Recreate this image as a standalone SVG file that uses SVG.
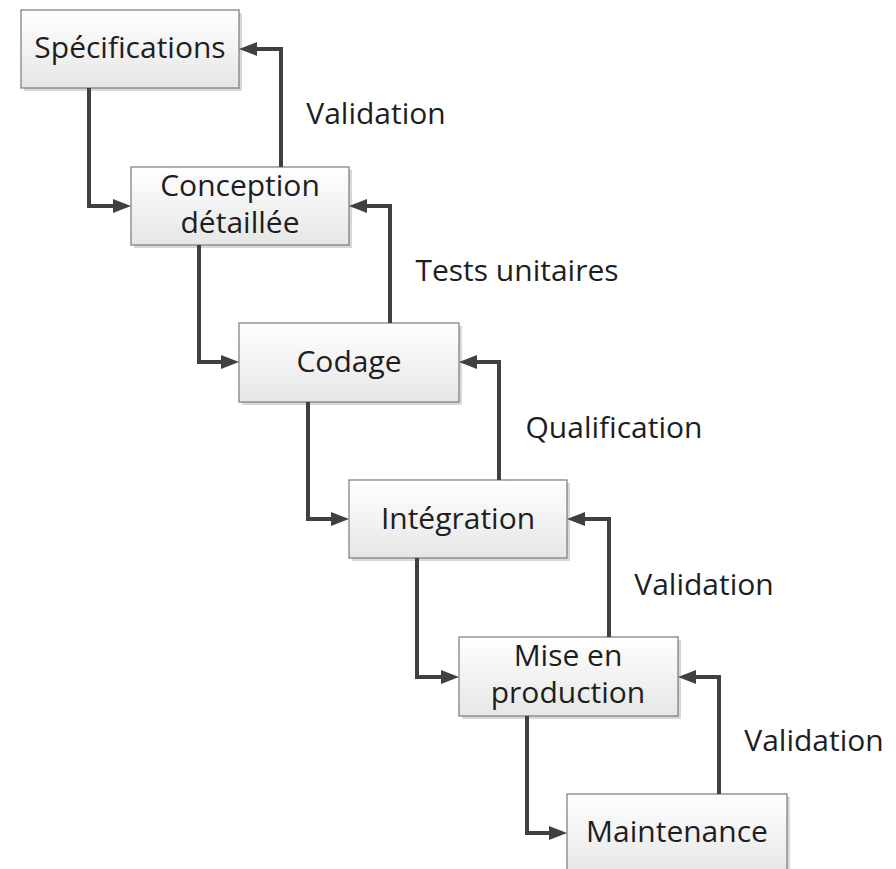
<svg xmlns="http://www.w3.org/2000/svg" width="896" height="869" viewBox="0 0 896 869">
<defs>
<linearGradient id="g" x1="0" y1="0" x2="0" y2="1">
<stop offset="0" stop-color="#ffffff"/>
<stop offset="1" stop-color="#e6e6e6"/>
</linearGradient>
<marker id="ah" markerUnits="userSpaceOnUse" markerWidth="18" markerHeight="14" refX="4" refY="7" orient="auto">
<path d="M0,0 L18,7 L0,14 z" fill="#404040"/>
</marker>
<style>
.box{fill:url(#g);stroke:#7a7a7a;stroke-width:1.2}
.sh{fill:#d8d8d8}
.t{font-family:"Open Sans","Noto Sans",sans-serif;font-size:30px;fill:#1e1e1e;text-anchor:middle}
.c{fill:none;stroke:#404040;stroke-width:4;marker-end:url(#ah)}
</style>
</defs>
<rect width="896" height="869" fill="#ffffff"/>
<g id="n1"><rect class="sh" x="24" y="13" width="218" height="78"/><rect class="box" x="21" y="10" width="218" height="78"/><text class="t" x="130" y="58">Spécifications</text></g>
<g id="n2"><rect class="sh" x="134" y="170" width="218" height="78"/><rect class="box" x="131" y="167" width="218" height="78"/><text class="t" x="240" y="196">Conception</text><text class="t" x="240" y="233">détaillée</text></g>
<g id="n3"><rect class="sh" x="242" y="326" width="220" height="79"/><rect class="box" x="239" y="323" width="220" height="79"/><text class="t" x="349" y="372">Codage</text></g>
<g id="n4"><rect class="sh" x="352" y="483" width="218" height="78"/><rect class="box" x="349" y="480" width="218" height="78"/><text class="t" x="458" y="529">Intégration</text></g>
<g id="n5"><rect class="sh" x="462" y="640" width="219" height="79"/><rect class="box" x="459" y="637" width="219" height="79"/><text class="t" x="568" y="666">Mise en</text><text class="t" x="568" y="703">production</text></g>
<g id="n6"><rect class="sh" x="570" y="797" width="220" height="80"/><rect class="box" x="567" y="794" width="220" height="80"/><text class="t" x="677" y="842">Maintenance</text></g>
<g id="connectors">
<path class="c" d="M89,88 V206 H117"/>
<path class="c" d="M281,167 V49 H253"/>
<path class="c" d="M199,245 V362 H225"/>
<path class="c" d="M390,323 V206 H363"/>
<path class="c" d="M308,402 V519 H335"/>
<path class="c" d="M499,480 V362 H473"/>
<path class="c" d="M417,558 V677 H445"/>
<path class="c" d="M609,637 V519 H581"/>
<path class="c" d="M527,716 V833 H553"/>
<path class="c" d="M719,794 V677 H692"/>
</g>
<g id="labels" class="t" style="text-anchor:start">
<text class="t" x="376" y="124">Validation</text>
<text class="t" x="517" y="281">Tests unitaires</text>
<text class="t" x="614" y="438">Qualification</text>
<text class="t" x="704" y="595">Validation</text>
<text class="t" x="814" y="751">Validation</text>
</g>
</svg>
